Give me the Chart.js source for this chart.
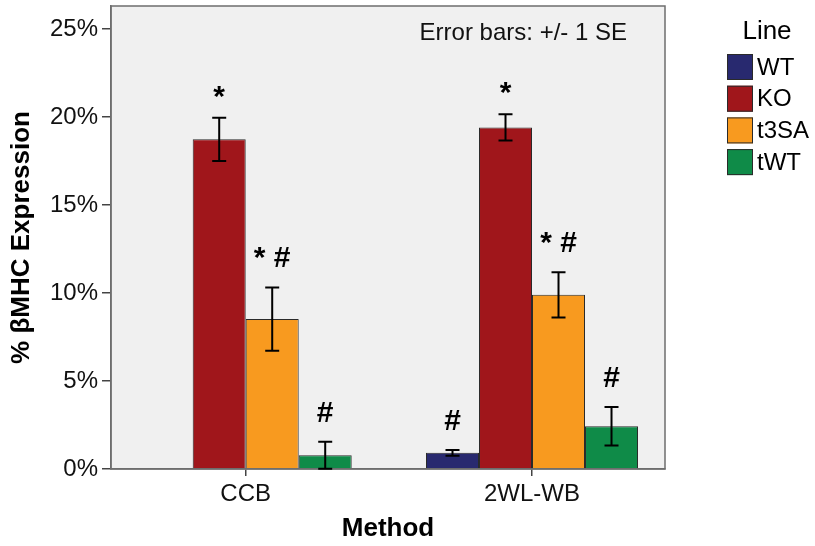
<!DOCTYPE html>
<html><head><meta charset="utf-8">
<script src="https://cdn.jsdelivr.net/npm/chart.js@4"></script>
<style>html,body{margin:0;padding:0;background:#fff}#wrap{width:815px;height:546px}</style>
</head><body><div id="wrap"><canvas id="c" width="815" height="546"></canvas></div>
<script>
// ---- data ----
const methods = ['CCB', '2WL-WB'];
const lines = ['WT', 'KO', 't3SA', 'tWT'];
const wtMean = [null, 0.92];
const wtSE = [null, 0.16];
const koMean = [18.74, 19.42];
const koSE = [1.23, 0.74];
const t3saMean = [8.52, 9.90];
const t3saSE = [1.80, 1.29];
const twtMean = [0.78, 2.43];
const twtSE = [0.77, 1.10];
const wtMarks = ['', '#'];
const koMarks = ['*', '*'];
const t3saMarks = ['* #', '* #'];
const twtMarks = ['#', '#'];
const yTicks = [0, 5, 10, 15, 20, 25];
const yMax = 26.32;
const colors = ['#28296f', '#a0161b', '#f89a1f', '#0f8b48'];

const FONT = "'Liberation Sans', Arial, sans-serif";
Chart.defaults.font.family = FONT;

const means = [wtMean, koMean, t3saMean, twtMean];
const ses = [wtSE, koSE, t3saSE, twtSE];
const marks = [wtMarks, koMarks, t3saMarks, twtMarks];

const datasets = lines.map((name, k) => ({
  label: name,
  data: methods.map((m, i) => ({ x: i, y: means[k][i] })),
  se: ses[k],
  marks: marks[k],
  backgroundColor: colors[k],
  borderColor: '#2a2a2a',
  borderWidth: 1,
  categoryPercentage: 0.7405,
  barPercentage: 1
}));

const framePlugin = {
  id: 'frame',
  beforeDraw(chart) {
    const { ctx, chartArea: a } = chart;
    ctx.save();
    ctx.fillStyle = '#f0f0f0';
    ctx.fillRect(a.left, a.top, a.right - a.left, a.bottom - a.top);
    ctx.restore();
  },
  afterDatasetsDraw(chart) {
    const { ctx, chartArea: a } = chart;
    const ys = chart.scales.y;
    ctx.save();
    ctx.strokeStyle = '#6e6e6e';
    ctx.lineWidth = 1.5;
    ctx.strokeRect(a.left, a.top, a.right - a.left, a.bottom - a.top);
    chart.data.datasets.forEach((ds, di) => {
      const meta = chart.getDatasetMeta(di);
      meta.data.forEach((bar, j) => {
        const m = ds.data[j].y;
        if (m === null || m === undefined) return;
        const se = ds.se[j];
        const x = bar.x;
        const yt = ys.getPixelForValue(m + se);
        const yb = ys.getPixelForValue(Math.max(0, m - se));
        ctx.strokeStyle = '#000';
        ctx.lineWidth = 2;
        ctx.beginPath();
        ctx.moveTo(x, yt); ctx.lineTo(x, yb);
        ctx.moveTo(x - 7, yt); ctx.lineTo(x + 7, yt);
        ctx.moveTo(x - 7, yb); ctx.lineTo(x + 7, yb);
        ctx.stroke();
        const t = ds.marks[j];
        if (t) {
          ctx.font = 'bold 30px ' + FONT;
          ctx.fillStyle = '#000';
          ctx.textAlign = 'center';
          ctx.textBaseline = 'alphabetic';
          const d = ctx.measureText(t).actualBoundingBoxDescent || 0;
          ctx.fillText(t, x, yt - 20 - d);
        }
      });
    });
    ctx.font = '24px ' + FONT;
    ctx.fillStyle = '#111';
    ctx.textAlign = 'right';
    ctx.textBaseline = 'alphabetic';
    ctx.fillText('Error bars: +/- 1 SE', a.right - 38, a.top + 34);
    ctx.restore();
  },
  afterDraw(chart) {
    const { ctx, chartArea: a } = chart;
    ctx.save();
    ctx.fillStyle = '#000';
    ctx.font = '26px ' + FONT;
    ctx.textAlign = 'center';
    ctx.textBaseline = 'alphabetic';
    ctx.fillText('Line', a.right + 102, a.top + 33);
    ctx.font = '24px ' + FONT;
    ctx.textAlign = 'left';
    ctx.textBaseline = 'middle';
    chart.data.datasets.forEach((ds, i) => {
      const bx = a.right + 62, by = a.top + 48 + i * 31.7;
      ctx.fillStyle = ds.backgroundColor;
      ctx.fillRect(bx, by, 26, 26);
      ctx.strokeStyle = '#2a2a2a';
      ctx.lineWidth = 1;
      ctx.strokeRect(bx + 0.5, by + 0.5, 25, 25);
      ctx.fillStyle = '#000';
      ctx.fillText(ds.label, bx + 30, by + 14);
    });
    ctx.restore();
  }
};

new Chart(document.getElementById('c'), {
  type: 'bar',
  data: { datasets },
  options: {
    responsive: false,
    animation: false,
    devicePixelRatio: 1,
    layout: { padding: { top: 6, right: 150, left: 0, bottom: 0 } },
    plugins: { legend: { display: false }, tooltip: { enabled: false } },
    scales: {
      x: {
        type: 'linear',
        min: -0.4705,
        max: 1.4645,
        offset: false,
        afterBuildTicks: s => { s.ticks = methods.map((m, i) => ({ value: i })); },
        ticks: { callback: v => methods[v], font: { size: 24 }, color: '#111', padding: 4, autoSkip: false, maxRotation: 0 },
        grid: { offset: false, drawOnChartArea: false, tickLength: 7, color: '#444', lineWidth: 1.5 },
        border: { color: '#6e6e6e', width: 1.5 },
        title: { display: true, text: 'Method', font: { size: 26, weight: 'bold' }, color: '#000', padding: { top: 0, bottom: 2 } },
        afterFit: s => { s.height = 77; s.paddingLeft = 0; s.paddingRight = 0; }
      },
      y: {
        type: 'linear',
        min: 0,
        max: yMax,
        afterBuildTicks: s => { s.ticks = yTicks.map(v => ({ value: v })); },
        ticks: { callback: v => v + '%', font: { size: 24 }, color: '#111', padding: 4 },
        grid: { drawOnChartArea: false, tickLength: 9, color: '#444', lineWidth: 1.5 },
        border: { color: '#6e6e6e', width: 1.5 },
        title: { display: true, text: '% βMHC Expression', font: { size: 26, weight: 'bold' }, color: '#000', padding: { top: 6, bottom: 0 } },
        afterFit: s => { s.width = 111; s.paddingTop = 0; s.paddingBottom = 0; }
      }
    }
  },
  plugins: [framePlugin]
});
</script>
</body></html>
